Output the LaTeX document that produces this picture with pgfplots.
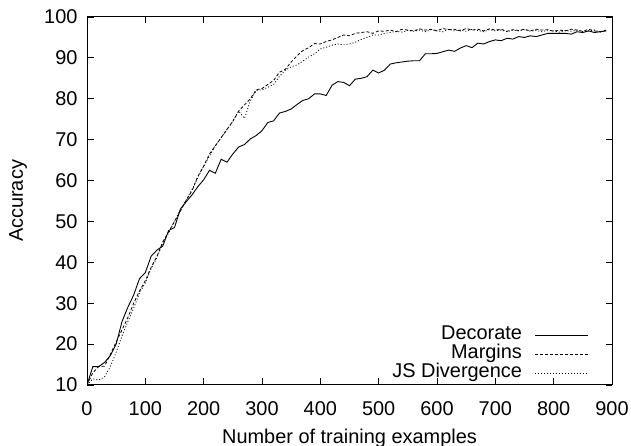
\documentclass[border=0pt]{standalone}
\usepackage{fontspec}
\setmainfont{Liberation Sans}
\usepackage{pgfplots}
\usepackage{pgfplotstable}
\pgfplotsset{compat=1.18}

% accuracy vs. number of training examples
\pgfplotstableread{
x   dec   mar   js
0   10    10    10
10  14.5  13.0  11.5
20  14.5  14.5  11.2
30  15.5  14.6  12.0
40  17.2  17.5  14.5
50  20.0  20.5  18.0
60  25.5  23.5  22.0
70  29.0  26.5  25.5
80  32.0  30.0  28.8
90  36.0  33.0  32.5
100 37.5  35.5  35.0
110 41.5  38.8  38.5
120 43.0  41.5  41.2
130 44.0  45.0  44.8
140 47.8  47.5  47.2
150 48.5  50.0  50.0
160 53.0  52.5  52.8
170 54.8  55.2  55.2
180 56.5  57.5  57.8
190 58.5  61.0  60.8
200 60.2  63.5  63.5
210 62.5  66.5  66.0
220 61.8  68.5  68.5
230 65.2  70.5  70.5
240 64.5  72.5  72.5
250 66.5  74.5  74.5
260 68.2  77.0  77.0
270 68.8  78.5  75.2
280 70.2  80.0  79.5
290 71.0  82.2  82.0
300 72.2  82.5  82.2
310 74.2  83.5  82.8
320 74.6  84.5  83.5
330 76.5  86.5  85.5
340 76.9  87.2  87.0
350 77.5  89.0  87.8
360 78.6  90.5  88.3
370 79.6  91.8  89.2
380 80.0  92.5  90.2
390 81.2  93.5  91.0
400 81.2  93.4  92.2
410 80.8  94.0  92.6
420 83.3  94.4  93.1
430 84.2  95.0  93.4
440 84.0  95.6  93.2
450 83.2  95.4  93.4
460 84.8  96.0  93.8
470 85.0  96.2  94.5
480 85.4  96.4  95.0
490 87.0  96.0  95.6
500 86.3  96.6  95.6
510 87.0  96.5  96.0
520 88.5  96.8  96.2
530 88.8  96.4  96.5
540 89.0  97.0  96.3
550 89.2  96.8  96.7
560 89.3  96.6  96.5
570 89.3  97.1  96.8
580 91.0  96.8  96.4
590 91.0  97.0  96.9
600 91.1  96.6  96.6
610 91.5  97.2  96.4
620 91.9  96.9  97.0
630 91.6  97.0  96.6
640 92.4  96.6  96.8
650 93.0  97.2  96.5
660 92.5  96.8  97.0
670 93.6  97.0  96.7
680 93.4  96.6  96.4
690 94.0  97.1  96.9
700 94.4  96.8  96.6
710 94.2  97.0  96.8
720 94.8  96.5  96.4
730 94.6  96.9  96.8
740 95.2  96.7  96.6
750 95.0  97.0  96.9
760 95.4  96.6  96.5
770 95.2  97.0  96.7
780 95.6  96.8  96.4
790 96.0  96.9  96.8
800 96.0  96.5  96.6
810 96.0  96.8  96.3
820 96.0  96.6  96.7
830 95.8  97.0  96.5
840 96.4  96.8  96.8
850 96.2  96.5  96.4
860 96.6  97.0  96.6
870 96.2  96.6  96.8
880 96.4  96.4  96.3
890 96.6  96.8  96.6
}\acc

\begin{document}
\begin{tikzpicture}
\begin{axis}[
scale only axis,
width=525bp, height=368bp,
xmin=0, xmax=900,
ymin=10, ymax=100,
xtick distance=100,
ytick distance=10,
tick align=inside,
major tick length=6.5bp,
axis line style={line width=1bp},
every tick/.style={black, line width=0.8bp},
/pgf/number format/assume math mode=true,
ticklabel style={font=\fontsize{20}{23}\selectfont},
xticklabel style={yshift=-13bp},
yticklabel style={xshift=-6bp},
xlabel={Number of training examples},
ylabel={Accuracy},
every axis x label/.style={at={(axis description cs:0.5,0)}, anchor=center, yshift=-53bp, font=\fontsize{20}{23}\selectfont},
every axis y label/.style={at={(axis description cs:0,0.5)}, anchor=center, rotate=90, yshift=69bp, font=\fontsize{20}{23}\selectfont},
legend plot pos=right,
legend cell align=right,
legend style={draw=none, fill=none, at={(0.962,0.003)}, anchor=south east,
	font=\fontsize{20}{23}\selectfont,
	nodes={inner sep=0pt, text height=13bp, text depth=4bp},
	row sep=2bp, column sep=13bp},
legend image code/.code={\draw[#1] (0bp,0bp) -- (53bp,0bp);},
]
\addplot[black, line width=0.9bp] table[x=x, y=dec] {\acc};
\addplot[black, line width=0.8bp, dash pattern=on 3bp off 2bp] table[x=x, y=mar] {\acc};
\addplot[black, line width=0.8bp, dash pattern=on 1bp off 2bp] table[x=x, y=js] {\acc};
\legend{Decorate, Margins, JS Divergence}
\end{axis}
\pgfresetboundingbox
\path ([shift={(-87bp,-61bp)}]current axis.south west) rectangle ([shift={(19bp,17bp)}]current axis.north east);
\end{tikzpicture}
\end{document}
